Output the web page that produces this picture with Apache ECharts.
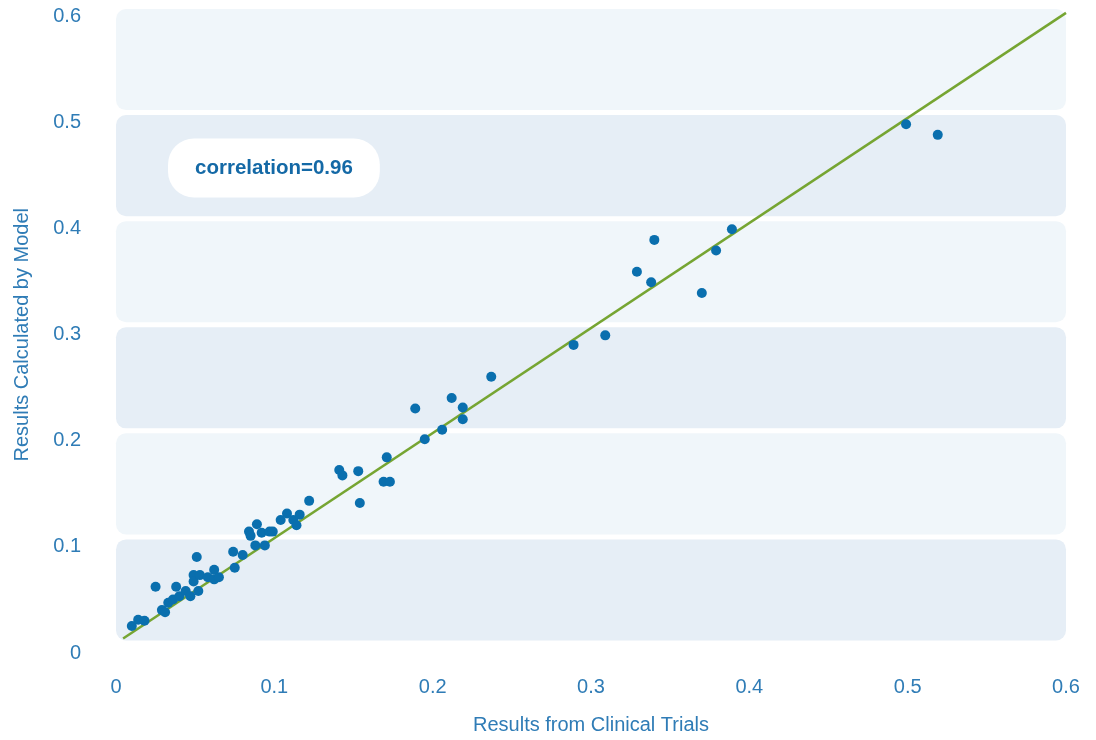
<!DOCTYPE html>
<html>
<head>
<meta charset="utf-8">
<script src="https://cdn.jsdelivr.net/npm/echarts@6/dist/echarts.min.js"></script>
<style>
html,body{margin:0;padding:0;background:#fff;}
#chart{width:1096px;height:740px;}
</style>
</head>
<body>
<div id="chart"></div>
<script>
// Data
const trialX = [0.010,0.014,0.018,0.025,0.029,0.031,0.033,0.036,0.038,0.040,0.044,0.047,0.049,0.049,0.051,0.052,0.053,0.058,0.062,0.062,0.065,0.074,0.075,0.080,0.084,0.085,0.088,0.089,0.092,0.094,0.097,0.099,0.104,0.108,0.112,0.114,0.116,0.122,0.141,0.143,0.153,0.154,0.169,0.171,0.173,0.189,0.195,0.206,0.212,0.219,0.219,0.237,0.289,0.309,0.329,0.338,0.340,0.370,0.379,0.389,0.499,0.519];
const modelY = [0.016,0.022,0.021,0.053,0.031,0.029,0.038,0.041,0.053,0.044,0.049,0.044,0.064,0.058,0.081,0.049,0.064,0.062,0.069,0.060,0.062,0.086,0.071,0.083,0.105,0.101,0.092,0.112,0.104,0.092,0.105,0.105,0.116,0.122,0.116,0.111,0.121,0.134,0.163,0.158,0.162,0.132,0.152,0.175,0.152,0.221,0.192,0.201,0.231,0.222,0.211,0.251,0.281,0.290,0.350,0.340,0.380,0.330,0.370,0.390,0.489,0.479];
const fitX = [0.0045, 0.6];
const fitY = [0.0043, 0.594];
const bandLows = [0, 0.1, 0.2, 0.3, 0.4, 0.5];
const tickLabels = ['0','0.1','0.2','0.3','0.4','0.5','0.6'];
const correlationText = 'correlation=0.96';

const FONT = '"Liberation Sans", Arial, Helvetica, sans-serif';
const LABEL_COLOR = '#2f7cb6';

const chart = echarts.init(document.getElementById('chart'), null, {renderer:'canvas'});

const bandData = bandLows.map((lo, i) => [0, lo, 0.6, lo + 0.1, i]);

const option = {
  animation: false,
  backgroundColor: '#ffffff',
  grid: {left: 116, right: 30, top: 6.5, bottom: 95.5, containLabel: false},
  title: {
    text: correlationText,
    left: 168, top: 139,
    backgroundColor: '#ffffff',
    borderRadius: 26,
    padding: [19, 27, 19, 27],
    textStyle: {fontFamily: FONT, fontSize: 20.5, fontWeight: 'bold', color: '#1469a6', lineHeight: 20}
  },
  xAxis: {
    type: 'value', min: 0, max: 0.6, interval: 0.1,
    axisLine: {show: false}, axisTick: {show: false}, splitLine: {show: false},
    axisLabel: {
      margin: 34, fontFamily: FONT, fontSize: 20, color: LABEL_COLOR,
      formatter: (v) => tickLabels[Math.round(v * 10)]
    },
    name: 'Results from Clinical Trials',
    nameLocation: 'middle', nameGap: 72,
    nameTextStyle: {fontFamily: FONT, fontSize: 20, color: LABEL_COLOR}
  },
  yAxis: {
    type: 'value', min: 0, max: 0.6, interval: 0.1,
    axisLine: {show: false}, axisTick: {show: false}, splitLine: {show: false},
    axisLabel: {
      margin: 35, fontFamily: FONT, fontSize: 20, color: LABEL_COLOR,
      verticalAlign: 'top', lineHeight: 20,
      formatter: (v) => tickLabels[Math.round(v * 10)]
    },
    name: 'Results Calculated by Model',
    nameLocation: 'middle', nameGap: 84, nameRotate: 90,
    nameTextStyle: {fontFamily: FONT, fontSize: 20, color: LABEL_COLOR, padding: [0, 20, 0, 0]}
  },
  series: [
    {
      type: 'custom',
      silent: true,
      z: 0,
      data: bandData,
      encode: {x: [0, 2], y: [1, 3]},
      renderItem: function (params, api) {
        const p1 = api.coord([api.value(0), api.value(3)]);
        const p2 = api.coord([api.value(2), api.value(1)]);
        const gap = 2.5;
        const idx = api.value(4);
        return {
          type: 'rect',
          shape: {x: p1[0], y: p1[1] + gap, width: p2[0] - p1[0], height: p2[1] - p1[1] - 2 * gap, r: 10},
          style: {fill: idx % 2 === 0 ? '#e6eef6' : '#f0f6fa'}
        };
      }
    },
    {
      type: 'line',
      data: fitX.map((x, i) => [x, fitY[i]]),
      symbol: 'none',
      lineStyle: {color: '#76a532', width: 2.5},
      z: 2, silent: true
    },
    {
      type: 'scatter',
      data: trialX.map((x, i) => [x, modelY[i]]),
      symbol: 'circle',
      symbolSize: 10,
      itemStyle: {color: '#0a6fae', opacity: 1},
      z: 3
    }
  ]
};
chart.setOption(option);
</script>
</body>
</html>
